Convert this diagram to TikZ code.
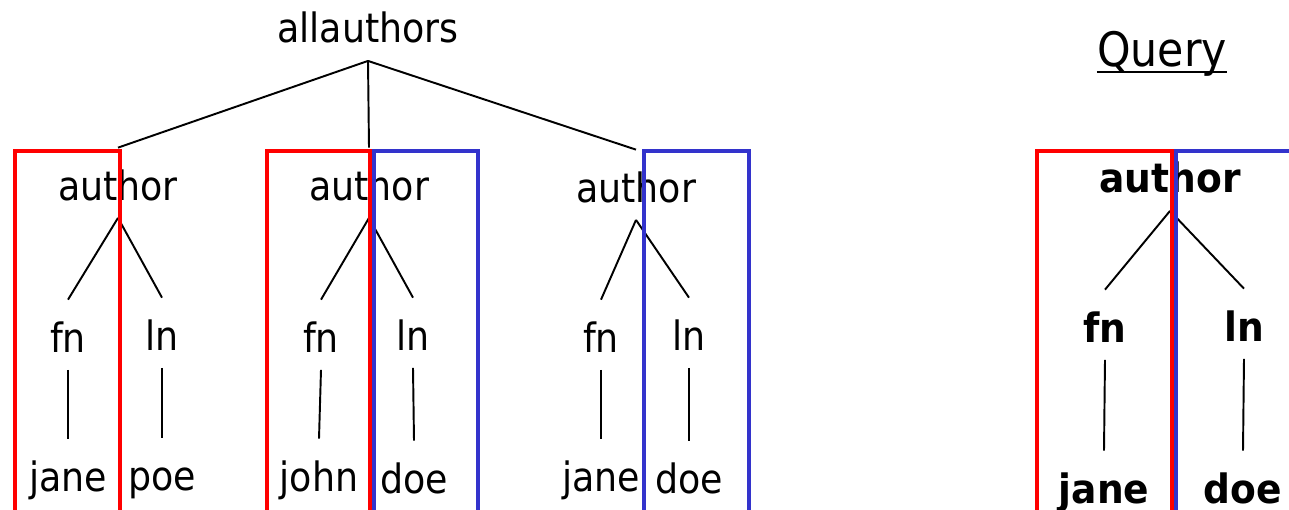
\documentclass[tikz,border=0pt]{standalone}
\usepackage{fontspec}
\setmainfont{DejaVu Sans}[FakeStretch=0.9, BoldFeatures={FakeStretch=0.93}]
\definecolor{selred}{RGB}{255,0,0}
\definecolor{selblue}{RGB}{51,51,204}

\begin{document}
\begin{tikzpicture}[x=0.02cm, y=-0.02cm,
    lbl/.style={anchor=base, font=\fontsize{23}{27}\selectfont,
      text height=19.6pt, text depth=0pt, inner xsep=0pt, inner ysep=10pt},
    qlbl/.style={lbl, font=\fontsize{23}{27}\selectfont\bfseries},
    edge/.style={line width=1.1pt},
    sel/.style={line width=2.3pt}]
    \useasboundingbox (0,0) rectangle (1289,510);
    \clip (0,0) rectangle (1289,510);
    % document tree
    \node[lbl] (all) at (368,43) {allauthors};
    \node[lbl] (a1) at (118,200) {author};
    \node[lbl] (a2) at (369,200) {author};
    \node[lbl] (a3) at (636,202) {author};
    \node[lbl] (fn1) at (68,352) {fn};
    \node[lbl] (ln1) at (162,350) {ln};
    \node[lbl] (v1) at (68,491) {jane};
    \node[lbl] (w1) at (162,490) {poe};
    \node[lbl] (fn2) at (321,352) {fn};
    \node[lbl] (ln2) at (413,350) {ln};
    \node[lbl] (v2) at (319,491) {john};
    \node[lbl] (w2) at (414,493) {doe};
    \node[lbl] (fn3) at (601,352) {fn};
    \node[lbl] (ln3) at (689,350) {ln};
    \node[lbl] (v3) at (601,491) {jane};
    \node[lbl] (w3) at (689,493) {doe};
    \draw[edge] (all.south) -- (a1.north);
    \draw[edge] (all.south) -- (a2.north);
    \draw[edge] (all.south) -- (a3.north);
    \draw[edge] (a1.south) -- (fn1.north);
    \draw[edge] (a1.south) -- (ln1.north);
    \draw[edge] (fn1.south) -- (v1.north);
    \draw[edge] (ln1.south) -- (w1.north);
    \draw[edge] (a2.south) -- (fn2.north);
    \draw[edge] (a2.south) -- (ln2.north);
    \draw[edge] (fn2.south) -- (v2.north);
    \draw[edge] (ln2.south) -- (w2.north);
    \draw[edge] (a3.south) -- (fn3.north);
    \draw[edge] (a3.south) -- (ln3.north);
    \draw[edge] (fn3.south) -- (v3.north);
    \draw[edge] (ln3.south) -- (w3.north);
    % matches
    \draw[sel, selred] (15,530) -- (15,151) -- (120,151) -- (120,530);
    \draw[sel, selred] (267,530) -- (267,151) -- (370,151) -- (370,530);
    \draw[sel, selblue] (374,530) -- (374,151) -- (478,151) -- (478,530);
    \draw[sel, selblue] (644,530) -- (644,151) -- (749,151) -- (749,530);
    % query tree
    \node[lbl, font=\fontsize{27}{32}\selectfont] (query) at (1162,67) {Query};
    \draw[line width=1.2pt] ([yshift=-3pt]query.base west) -- ([yshift=-3pt]query.base east);
    \node[qlbl] (qa) at (1170,193) {author};
    \node[qlbl] (qfn) at (1105,342) {fn};
    \node[qlbl] (qln) at (1244,341) {ln};
    \node[qlbl] (qv) at (1104,503) {jane};
    \node[qlbl] (qw) at (1243,503) {doe};
    \draw[edge] (qa.south) -- (qfn.north);
    \draw[edge] (qa.south) -- (qln.north);
    \draw[edge] (qfn.south) -- (qv.north);
    \draw[edge] (qln.south) -- (qw.north);
    \draw[sel, selred] (1037,530) -- (1037,151) -- (1172,151) -- (1172,530);
    \draw[sel, selblue] (1176,530) -- (1176,151) -- (1300,151);
\end{tikzpicture}
\end{document}
